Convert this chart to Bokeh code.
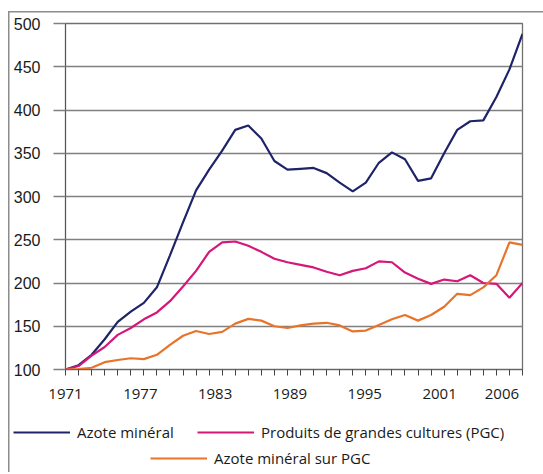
from bokeh.plotting import figure
from bokeh.models import (FixedTicker, LinearAxis, Legend, LegendItem, Range1d,
                          CustomJSTickFormatter)
from bokeh.embed import file_html
from bokeh.resources import INLINE

# ---------------- data ----------------
years = list(range(1971, 2007))
azote_mineral = [100, 105, 117, 135, 155, 167, 177, 195, 232, 270, 307, 331,
                 353, 377, 382, 367, 341, 331, 332, 333, 327, 316, 306, 316,
                 339, 351, 343, 318, 321, 350, 377, 387, 388, 415, 447, 488]
produits_pgc = [100, 104, 116, 126, 140, 148, 158, 166, 179, 196, 214, 236,
                247, 248, 243, 236, 228, 224, 221, 218, 213, 209, 214, 217,
                225, 224, 212, 205, 199, 204, 202, 209, 200, 199, 183, 200]
azote_sur_pgc = [100, 100.5, 102, 108.5, 111, 113, 112, 117, 128.5, 139, 144.5, 141,
                 143.5, 153, 158.5, 156.5, 150, 148, 151, 153, 154, 151, 144, 145,
                 151.5, 158, 163, 156.5, 163, 172.5, 187.5, 186, 195, 209, 247, 244]
series_names = ["Azote minéral", "Produits de grandes cultures (PGC)", "Azote minéral sur PGC"]
y_ticks = [100, 150, 200, 250, 300, 350, 400, 450, 500]
x_label_years = [1971, 1977, 1983, 1989, 1995, 2001, 2006]

NAVY = "#1f2468"
MAGENTA = "#d6177a"
ORANGE = "#e8742c"
GRID = "#808080"
TXT = "#1a1a1a"
BOX = "#8c8c8c"
W = 543

# thin grey box framing the whole graphic (drawn as the page background)
frame_css_top = {
    "background-image": f"linear-gradient({BOX}, {BOX}), linear-gradient({BOX}, {BOX})",
    "background-size": "100% 1.5px, 1.5px 100%",
    "background-position": "8px 10.5px, 7.5px 10.5px",
    "background-repeat": "no-repeat",
}
frame_css_bottom = {
    "background-image": f"linear-gradient({BOX}, {BOX})",
    "background-size": "1.5px 100%",
    "background-position": "7.5px 0px",
    "background-repeat": "no-repeat",
}

p = figure(width=W, height=405, output_backend="svg", toolbar_location=None,
           x_range=Range1d(1971, 2006), y_range=Range1d(100, 500),
           min_border_left=65, min_border_right=21, min_border_top=23,
           min_border_bottom=36, border_fill_color=None)
p.styles = frame_css_top

p.outline_line_color = "#707070"
p.outline_line_width = 1.3
p.xgrid.grid_line_color = None
p.ygrid.grid_line_color = GRID
p.ygrid.grid_line_width = 1.3
p.ygrid.ticker = FixedTicker(ticks=y_ticks)

# y axis
ya = p.yaxis[0]
ya.ticker = FixedTicker(ticks=y_ticks)
ya.major_tick_out = 12
ya.major_tick_in = 0
ya.major_tick_line_color = GRID
ya.major_tick_line_width = 1.3
ya.minor_tick_line_color = None
ya.axis_line_color = "#555555"
ya.major_label_text_font = "Liberation Sans"
ya.major_label_text_font_size = "16px"
ya.major_label_text_color = TXT
ya.major_label_standoff = 13

# x axis: yearly tick marks only
xa = p.xaxis[0]
xa.ticker = FixedTicker(ticks=[], minor_ticks=years)
xa.minor_tick_out = 6
xa.minor_tick_in = 0
xa.minor_tick_line_color = "#444444"
xa.axis_line_color = "#666666"

# x axis labels (slightly compressed spacing, as in the original)
label_pos = [1971 + (yr - 1971) * 0.955 for yr in x_label_years]
la = LinearAxis(ticker=FixedTicker(ticks=label_pos),
                formatter=CustomJSTickFormatter(
                    args=dict(pos=label_pos, labels=[str(v) for v in x_label_years]),
                    code="for (let i = 0; i < pos.length; i++) {"
                         " if (Math.abs(pos[i] - tick) < 1e-6) return labels[i]; }"
                         " return '';"),
                axis_line_color=None, major_tick_line_color=None,
                minor_tick_line_color=None, major_tick_out=0, major_tick_in=0,
                major_label_standoff=13,
                major_label_text_font="Open Sans",
                major_label_text_font_size="15px",
                major_label_text_color=TXT)
p.add_layout(la, "below")

r1 = p.line(years, azote_mineral, line_color=NAVY, line_width=2.2)
r2 = p.line(years, produits_pgc, line_color=MAGENTA, line_width=2.2)
r3 = p.line(years, azote_sur_pgc, line_color=ORANGE, line_width=2.2)

# ---------------- legend strip (separate root, full-width frame) ----------------
LH = 67
lp = figure(width=W, height=LH, output_backend="svg", toolbar_location=None,
            x_axis_location=None, y_axis_location=None,
            min_border=0, outline_line_color=None,
            border_fill_color=None, background_fill_color=None)
lp.styles = frame_css_bottom
lp.xgrid.visible = False
lp.ygrid.visible = False
colors = [NAVY, MAGENTA, ORANGE]
series = [azote_mineral, produits_pgc, azote_sur_pgc]
locs = [(13, 30), (197, 30), (150, 4)]
for name, col, vals, loc in zip(series_names, colors, series, locs):
    rr = lp.line(years, vals, line_color=col, line_width=2.2, visible=False)
    lg = Legend(items=[LegendItem(label=name, renderers=[rr])], location=loc,
                margin=0, padding=0, border_line_alpha=0, background_fill_alpha=0,
                inactive_fill_alpha=0,
                glyph_width=57, glyph_height=14, label_height=14,
                label_standoff=7, label_text_font="Open Sans",
                label_text_font_size="15px", label_text_color=TXT, spacing=0)
    lp.add_layout(lg, "center")

open("out.html", "w").write(file_html([p, lp], INLINE))
